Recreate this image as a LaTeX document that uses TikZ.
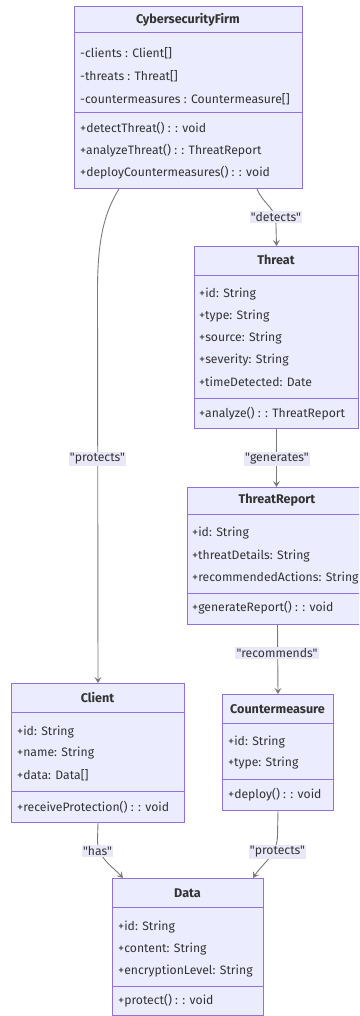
\documentclass[tikz,border=0pt]{standalone}
\usepackage{fontspec}
\setmainfont{Fira Sans}[Ligatures=TeXOff]
\usetikzlibrary{arrows.meta}
\definecolor{cfill}{HTML}{ECECFF}
\definecolor{cline}{HTML}{9370DB}
\definecolor{ctext}{HTML}{333333}
\definecolor{eline}{HTML}{7A7A7A}
\definecolor{lblbg}{HTML}{E8E8F8}
\begin{document}
\begin{tikzpicture}[x=1pt,y=-1pt,
  classbox/.style={draw=cline, fill=cfill, line width=1pt, inner sep=0pt, anchor=north west},
  divider/.style={draw=cline, line width=1pt},
  title/.style={font=\fontsize{12.6}{14}\selectfont\bfseries, text=ctext, inner sep=0pt},
  member/.style={font=\fontsize{12.2}{14}\selectfont, text=ctext, anchor=west, inner sep=0pt},
  conn/.style={draw=eline, line width=0.9pt, -{Stealth[length=6pt,width=7pt,inset=2.5pt]}},
  elabel/.style={fill=lblbg, text=ctext, font=\fontsize{12.2}{14}\selectfont, inner sep=1.2pt},
]
\useasboundingbox (0,0) rectangle (359,1016);
\clip (0,0) rectangle (359,1016);
\fill[white] (0,0) rectangle (359,1016);

% CybersecurityFirm
\node[classbox, minimum width=228pt, minimum height=182pt] (firm) at (74,6) {};
\draw[divider] (74,33) -- (302,33);
\draw[divider] (74,113) -- (302,113);
\node[title] (firmt) at (188,20) {CybersecurityFirm};
\node[member] (firma1) at (80,53) {-clients : Client[]};
\node[member] (firma2) at (80,76) {-threats : Threat[]};
\node[member] (firma3) at (80,99) {-countermeasures : Countermeasure[]};
\node[member] (firmm1) at (80,128) {+detectThreat() : : void};
\node[member] (firmm2) at (80,151) {+analyzeThreat() : : ThreatReport};
\node[member] (firmm3) at (80,173) {+deployCountermeasures() : : void};

% Threat
\node[classbox, minimum width=164pt, minimum height=182pt] (threat) at (194,246) {};
\draw[divider] (194,275) -- (358,275);
\draw[divider] (194,398) -- (358,398);
\node[title] (threatt) at (276,260) {Threat};
\node[member] (threata1) at (199,294) {+id: String};
\node[member] (threata2) at (199,316) {+type: String};
\node[member] (threata3) at (199,338) {+source: String};
\node[member] (threata4) at (199,360) {+severity: String};
\node[member] (threata5) at (199,382) {+timeDetected: Date};
\node[member] (threatm1) at (199,414) {+analyze() : : ThreatReport};

% ThreatReport
\node[classbox, minimum width=180pt, minimum height=137pt] (report) at (187,487) {};
\draw[divider] (187,514) -- (367,514);
\draw[divider] (187,593) -- (367,593);
\node[title] (reportt) at (277,500) {ThreatReport};
\node[member] (reporta1) at (192,533) {+id: String};
\node[member] (reporta2) at (192,556) {+threatDetails: String};
\node[member] (reporta3) at (192,578) {+recommendedActions: String};
\node[member] (reportm1) at (192,608) {+generateReport() : : void};

% Client
\node[classbox, minimum width=173pt, minimum height=139pt] (client) at (11,683) {};
\draw[divider] (11,712) -- (184,712);
\draw[divider] (11,791) -- (184,791);
\node[title] (clientt) at (97.5,697) {Client};
\node[member] (clienta1) at (17,732) {+id: String};
\node[member] (clienta2) at (17,753) {+name: String};
\node[member] (clienta3) at (17,775) {+data: Data[]};
\node[member] (clientm1) at (17,807) {+receiveProtection() : : void};

% Countermeasure
\node[classbox, minimum width=111pt, minimum height=116pt] (counter) at (222,694) {};
\draw[divider] (222,723) -- (333,723);
\draw[divider] (222,779) -- (333,779);
\node[title] (countert) at (277.5,709) {Countermeasure};
\node[member] (countera1) at (228,742) {+id: String};
\node[member] (countera2) at (228,763) {+type: String};
\node[member] (counterm1) at (228,795) {+deploy() : : void};

% Data
\node[classbox, minimum width=151pt, minimum height=137pt] (data) at (112,878) {};
\draw[divider] (112,907) -- (263,907);
\draw[divider] (112,986) -- (263,986);
\node[title] (datat) at (187.5,893) {Data};
\node[member] (dataa1) at (118,927) {+id: String};
\node[member] (dataa2) at (118,949) {+content: String};
\node[member] (dataa3) at (118,971) {+encryptionLevel: String};
\node[member] (datam1) at (118,1001) {+protect() : : void};

% connectors
\draw[conn] ([xshift=45pt]firm.south west) .. controls (106,210) and (97.5,235) .. (97.5,290) -- (client.north);
\node[elabel] (l1) at (97.5,459) {"protects"};

\draw[conn] ([xshift=-46pt]firm.south east) .. controls +(8,18) and +(0,-20) .. (276,226) -- (threat.north);
\node[elabel] (l2) at (276,217) {"detects"};

\draw[conn] (threat.south) -- (threat.south |- report.north);
\node[elabel] (l3) at (277,459) {"generates"};

\draw[conn] (report.south) -- (counter.north);
\node[elabel] (l4) at (277,653) {"recommends"};

\draw[conn] (client.south) -- (97.5,840) .. controls (97.5,858) and (112,866) .. ([xshift=11pt]data.north west);
\node[elabel] (l5) at (97.5,851) {"has"};

\draw[conn] (counter.south) -- (277.5,835) .. controls (277.5,855) and (262,864) .. ([xshift=-11pt]data.north east);
\node[elabel] (l6) at (277.5,852) {"protects"};
\end{tikzpicture}
\end{document}
